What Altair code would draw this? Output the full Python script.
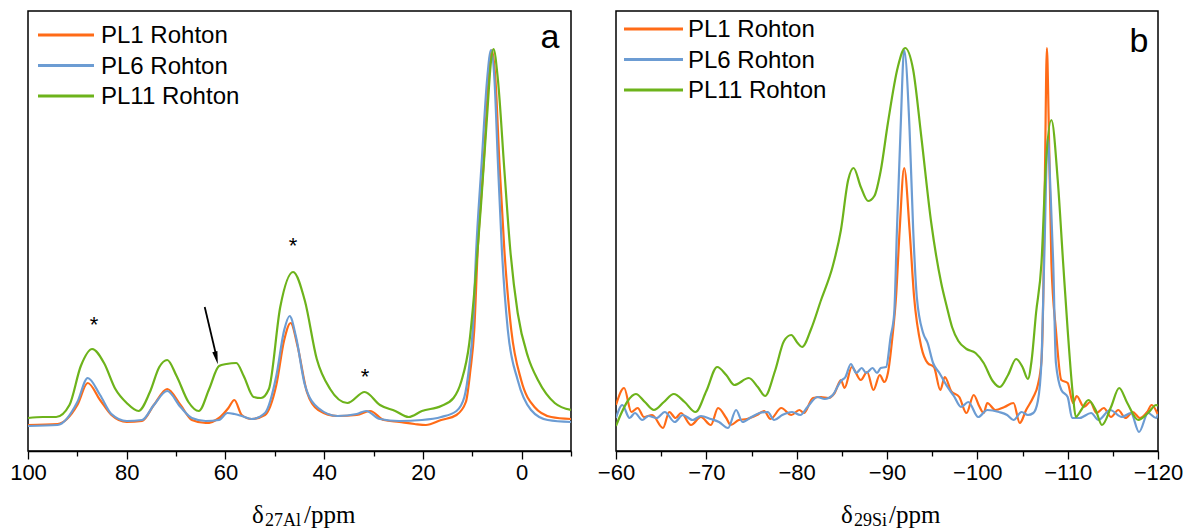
import altair as alt
import pandas as pd

SERIES = ["PL1 Rohton", "PL6 Rohton", "PL11 Rohton"]
COLORS = ["#FF6B17", "#6C9CD3", "#6DB31B"]

# ---------------- panel a : 27Al (ppm, intensity) ----------------
A_PL1 = [(100, 26), (94, 27), (90, 46), (87.9, 68), (85.4, 51), (83.1, 36), (80, 29), (76.9, 30),
         (74.5, 46), (71.8, 62), (69.1, 46), (66.8, 31), (64, 28), (61.3, 33), (59.4, 43), (58.2, 51),
         (56.7, 36), (54.7, 32), (52, 36), (49.7, 66), (48.1, 111), (46.8, 128), (45.4, 105), (43.5, 59),
         (41.2, 41), (37.3, 35), (33.4, 36), (30.7, 40), (27.9, 31), (24.8, 29), (21.7, 27), (19.4, 26),
         (16.3, 31), (13.2, 36), (11.3, 49), (10.4, 80), (9.6, 121), (8.9, 201), (7.7, 288), (6.7, 371),
         (6.0, 401), (5.3, 371), (4.5, 288), (3.5, 201), (2.1, 121), (0.1, 71), (-2.6, 44), (-6, 34),
         (-10, 32)]
A_PL6 = [(100, 25), (94, 26), (90, 49), (87.9, 73), (85.4, 56), (83.1, 37), (80, 30), (76.9, 31),
         (74.5, 46), (71.8, 60), (69.1, 44), (66.8, 33), (64, 30), (61.3, 31), (59.6, 38), (58.2, 37),
         (56.7, 35), (54.7, 32), (52, 38), (49.7, 75), (48.1, 121), (47.0, 135), (45.7, 114), (43.9, 66),
         (41.2, 43), (37.3, 35), (33.4, 37), (31.5, 40), (28.7, 32), (24.8, 30), (20.2, 31), (16.3, 34),
         (13.2, 40), (11.6, 54), (10.6, 85), (9.9, 121), (9.2, 201), (8.1, 288), (7.0, 371), (6.2, 401),
         (5.5, 371), (4.8, 288), (4.0, 201), (2.8, 121), (0.8, 71), (-1.9, 41), (-5.3, 31), (-10, 29)]
A_PL11 = [(100, 33), (97, 34), (94.3, 34), (91.6, 46), (89.3, 85), (87.0, 102), (84.6, 88), (82.3, 62),
          (80.0, 48), (77.6, 40), (75.3, 59), (73.4, 84), (71.8, 91), (69.9, 75), (67.5, 49), (65.4, 40),
          (63.3, 62), (61.3, 85), (59.8, 87), (57.8, 88), (56.3, 75), (54.3, 54), (52.8, 53), (51.2, 62),
          (48.9, 144), (46.3, 179), (43.9, 150), (41.5, 92), (38.8, 62), (35.3, 48), (31.8, 59), (28.7, 46),
          (25.6, 40), (22.9, 34), (20.2, 40), (16.3, 45), (13.8, 53), (12.2, 70), (10.6, 108), (9.4, 170),
          (8.2, 248), (7.0, 335), (6.2, 390), (5.7, 402), (4.8, 371), (3.5, 281), (2.3, 201), (0.8, 138),
          (-1.3, 94), (-3.3, 71), (-6.7, 48), (-10, 41)]

# ---------------- panel b : 29Si (ppm, intensity) ----------------
B_PL1 = [(-60.0, 46), (-60.9, 63), (-61.7, 39), (-62.4, 43), (-63.1, 34), (-64.0, 36), (-65.2, 23),
         (-65.9, 39), (-66.6, 33), (-67.2, 38), (-68.3, 26), (-69.4, 34), (-70.5, 26), (-71.3, 43),
         (-72.2, 33), (-72.7, 26), (-73.6, 31), (-74.5, 32), (-75.6, 36), (-76.4, 40), (-77.1, 32),
         (-78.3, 43), (-79.4, 36), (-80.3, 41), (-80.8, 38), (-81.8, 53), (-82.7, 54), (-83.5, 53),
         (-84.2, 58), (-84.9, 71), (-85.3, 63), (-86.1, 84), (-87.1, 71), (-87.8, 79), (-88.5, 61),
         (-89.2, 76), (-89.7, 69), (-90.1, 78), (-90.6, 114), (-91.0, 154), (-91.4, 221), (-91.9, 283),
         (-92.5, 221), (-93.0, 154), (-93.8, 104), (-94.5, 88), (-95.2, 84), (-95.9, 61), (-96.4, 74),
         (-97.1, 60), (-98.0, 54), (-98.8, 38), (-99.6, 56), (-100.2, 45), (-100.7, 38), (-101.1, 48),
         (-102.0, 41), (-103.0, 44), (-104.0, 48), (-104.7, 28), (-105.4, 41), (-106.2, 54), (-106.7, 66),
         (-107.1, 90), (-107.3, 154), (-107.5, 288), (-107.7, 403), (-107.9, 330), (-108.2, 188),
         (-108.7, 121), (-109.3, 71), (-110.0, 68), (-110.6, 48), (-111.0, 55), (-111.8, 44), (-112.5, 49),
         (-113.2, 38), (-114.0, 43), (-114.8, 34), (-115.6, 41), (-116.4, 33), (-117.2, 39), (-118.0, 33),
         (-118.8, 39), (-119.3, 46), (-120.0, 36)]
B_PL6 = [(-60.0, 33), (-60.7, 46), (-61.5, 33), (-62.1, 38), (-62.9, 31), (-63.6, 35), (-64.5, 33),
         (-65.4, 39), (-66.5, 29), (-67.4, 36), (-68.5, 31), (-69.4, 35), (-70.5, 32), (-71.4, 29),
         (-72.4, 23), (-73.3, 41), (-74.0, 29), (-75.0, 34), (-75.9, 38), (-76.8, 39), (-77.5, 31),
         (-78.4, 36), (-79.5, 39), (-80.4, 36), (-81.2, 44), (-82.3, 54), (-83.1, 52), (-84.0, 56),
         (-84.5, 64), (-84.9, 70), (-85.4, 74), (-86.0, 87), (-86.6, 78), (-87.2, 83), (-87.7, 78),
         (-88.4, 83), (-88.9, 78), (-89.3, 83), (-89.9, 84), (-90.4, 114), (-90.8, 138), (-91.1, 221),
         (-91.5, 321), (-91.9, 401), (-92.5, 321), (-92.9, 221), (-93.3, 154), (-94.0, 118), (-94.5, 108),
         (-95.1, 88), (-95.8, 78), (-96.7, 64), (-97.4, 55), (-98.2, 44), (-99.0, 49), (-100.1, 34),
         (-101.1, 41), (-102.4, 39), (-103.3, 36), (-104.0, 31), (-104.9, 39), (-105.6, 36), (-106.2, 38),
         (-106.7, 50), (-107.1, 90), (-107.4, 190), (-107.8, 314), (-108.1, 260), (-108.4, 188),
         (-108.7, 88), (-109.3, 61), (-110.0, 54), (-110.5, 33), (-111.3, 33), (-112.6, 38), (-113.4, 31),
         (-114.7, 41), (-116.0, 34), (-117.0, 38), (-117.9, 19), (-118.9, 38), (-119.8, 33), (-120.0, 37)]
B_PL11 = [(-60.0, 25), (-60.6, 38), (-61.3, 50), (-62.2, 57), (-63.2, 49), (-64.2, 41), (-65.3, 49),
          (-66.4, 57), (-67.6, 49), (-68.8, 39), (-70.0, 60), (-71.2, 84), (-72.2, 76), (-73.1, 66),
          (-74.7, 73), (-75.7, 64), (-76.5, 55), (-77.6, 80), (-78.6, 110), (-79.4, 116), (-80.1, 108),
          (-80.6, 104), (-81.6, 122), (-82.7, 151), (-84.0, 185), (-84.9, 221), (-85.7, 271), (-86.3, 283),
          (-87.1, 264), (-87.9, 250), (-88.6, 255), (-89.3, 280), (-90.1, 328), (-91.2, 384), (-92.0, 403),
          (-92.9, 381), (-93.8, 314), (-94.9, 228), (-96.0, 168), (-96.6, 145), (-97.2, 124), (-97.9, 110),
          (-98.8, 102), (-99.8, 98), (-100.7, 88), (-101.7, 70), (-102.5, 64), (-103.4, 76), (-104.3, 92),
          (-105.0, 84), (-105.6, 72), (-106.0, 90), (-106.5, 138), (-107.1, 188), (-107.6, 288),
          (-108.2, 331), (-108.9, 271), (-109.5, 188), (-110.0, 121), (-110.6, 54), (-110.9, 34),
          (-111.5, 41), (-112.3, 51), (-113.1, 41), (-113.8, 26), (-114.8, 44), (-115.7, 63), (-116.6, 48),
          (-117.8, 31), (-118.9, 38), (-119.8, 46), (-120.0, 45)]

# annotations in panel a
STAR_PPM = [86.6, 46.3, 31.7]
STAR_INT = [126, 205, 74]
ARROW_TAIL = [64.2, 144]
ARROW_HEAD = [61.85, 93]

A_TICKS = [100, 90, 80, 70, 60, 50, 40, 30, 20, 10, 0, -10]
B_TICKS = [-60, -65, -70, -75, -80, -85, -90, -95, -100, -105, -110, -115, -120]

FONT = "Liberation Sans"
SERIF = "Liberation Serif"
VIEW_W_A, VIEW_W_B, VIEW_H = 543, 542, 440


def long_df(groups):
    rows = []
    for name, pairs in zip(SERIES, groups):
        for p, v in pairs:
            rows.append({"ppm": p, "intensity": v, "series": name})
    return pd.DataFrame(rows)


one = pd.DataFrame({"k": [0]})


def panel(df, domain, ticks, major, legend_pos, label, label_pos, title_parts):
    x = alt.X("ppm:Q", scale=alt.Scale(domain=domain, reverse=True, nice=False, zero=False),
              axis=alt.Axis(values=ticks, title=None, grid=False,
                            labelExpr=f"datum.value % {major} === 0 ? datum.label : ''",
                            tickSize={"condition": {"test": f"datum.value % {major} === 0", "value": 8},
                                      "value": 5},
                            tickColor="black", tickWidth=1.3, domainColor="black", domainWidth=1.5,
                            labelFont=FONT, labelFontSize=22, labelColor="black", labelPadding=3,
                            labelOverlap=False, labelFlush=False))
    y = alt.Y("intensity:Q", scale=alt.Scale(domain=[0, VIEW_H], nice=False, zero=False), axis=None)
    lines = alt.Chart(df).mark_line(strokeWidth=2.2, interpolate="monotone", clip=True).encode(
        x=x, y=y,
        color=alt.Color("series:N", scale=alt.Scale(domain=SERIES, range=COLORS), legend=None),
        order=alt.Order("ppm:Q", sort="descending"),
    )
    layers = [lines]
    lx0, lx1, tx, ly0, dy = legend_pos
    for i, name in enumerate(SERIES):
        layers.append(alt.Chart(one).mark_rule(strokeWidth=3.2).encode(
            x=alt.value(lx0), x2=alt.value(lx1), y=alt.value(ly0 + i * dy), color=alt.value(COLORS[i])))
        layers.append(alt.Chart(one).mark_text(align="left", baseline="middle", font=FONT, fontSize=24,
                                               color="black").encode(
            x=alt.value(tx), y=alt.value(ly0 + i * dy + 1), text=alt.value(name)))
    layers.append(alt.Chart(one).mark_text(align="center", baseline="alphabetic", font=FONT, fontSize=34,
                                           color="black").encode(
        x=alt.value(label_pos[0]), y=alt.value(label_pos[1]), text=alt.value(label)))
    for txt, px, dyp, fs in title_parts:
        layers.append(alt.Chart(one).mark_text(align="left", baseline="alphabetic", font=SERIF, fontSize=fs,
                                               color="black").encode(
            x=alt.value(px), y=alt.value(VIEW_H + 72 + dyp), text=alt.value(txt)))
    return layers


dfa = long_df([A_PL1, A_PL6, A_PL11])
dfb = long_df([B_PL1, B_PL6, B_PL11])

la = panel(dfa, [-10, 100], A_TICKS, 20, (10, 66, 73, 24, 30.5), "a", (522, 37),
           [("δ", 224, 0, 25), ("27Al", 237, 3, 18), ("/ppm", 276, 0, 25)])
lb = panel(dfb, [-120, -60], B_TICKS, 10, (8, 67, 72, 18, 30.5), "b", (523, 41),
           [("δ", 225, 0, 25), ("29Si", 238, 3, 18), ("/ppm", 273, 0, 25)])

stars = alt.Chart(pd.DataFrame({"ppm": STAR_PPM, "intensity": STAR_INT})).mark_text(
    text="*", font=FONT, fontSize=22, baseline="middle", color="black").encode(
    x=alt.X("ppm:Q"), y=alt.Y("intensity:Q"))
shaft = alt.Chart(pd.DataFrame({"x0": [ARROW_TAIL[0]], "y0": [ARROW_TAIL[1]],
                                "x1": [ARROW_HEAD[0]], "y1": [ARROW_HEAD[1] + 2]})).mark_rule(
    color="black", strokeWidth=1.8).encode(x="x0:Q", y="y0:Q", x2="x1:Q", y2="y1:Q")
head = alt.Chart(pd.DataFrame({"ppm": [ARROW_HEAD[0]], "intensity": [ARROW_HEAD[1]]})).mark_point(
    shape="M-0.4,-1L0.4,-1L0,1Z", filled=True, size=170, angle=347, color="black", opacity=1).encode(
    x="ppm:Q", y="intensity:Q")

panel_a = alt.layer(*la, stars, shaft, head).properties(width=VIEW_W_A, height=VIEW_H)
panel_b = alt.layer(*lb).properties(width=VIEW_W_B, height=VIEW_H)

chart = alt.hconcat(panel_a, panel_b, spacing=45, bounds="flush").properties(
    padding={"left": 8, "top": 10, "right": 0, "bottom": 0},
    background="white",
).configure_view(stroke="black", strokeWidth=1.5)

chart.save("out.html", embed_options={"renderer": "svg", "actions": False})
